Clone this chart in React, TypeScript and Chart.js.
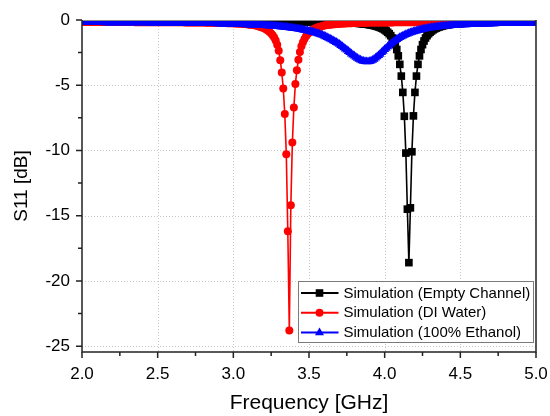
import React, { useEffect, useRef } from "react";
import { Chart, registerables } from "chart.js";

Chart.register(...registerables);

// Frequency sweep (GHz)
const freqGHz = [
  2.00, 2.01, 2.02, 2.03, 2.04, 2.05, 2.06, 2.07, 2.08, 2.09,
  2.10, 2.11, 2.12, 2.13, 2.14, 2.15, 2.16, 2.17, 2.18, 2.19,
  2.20, 2.21, 2.22, 2.23, 2.24, 2.25, 2.26, 2.27, 2.28, 2.29,
  2.30, 2.31, 2.32, 2.33, 2.34, 2.35, 2.36, 2.37, 2.38, 2.39,
  2.40, 2.41, 2.42, 2.43, 2.44, 2.45, 2.46, 2.47, 2.48, 2.49,
  2.50, 2.51, 2.52, 2.53, 2.54, 2.55, 2.56, 2.57, 2.58, 2.59,
  2.60, 2.61, 2.62, 2.63, 2.64, 2.65, 2.66, 2.67, 2.68, 2.69,
  2.70, 2.71, 2.72, 2.73, 2.74, 2.75, 2.76, 2.77, 2.78, 2.79,
  2.80, 2.81, 2.82, 2.83, 2.84, 2.85, 2.86, 2.87, 2.88, 2.89,
  2.90, 2.91, 2.92, 2.93, 2.94, 2.95, 2.96, 2.97, 2.98, 2.99,
  3.00, 3.01, 3.02, 3.03, 3.04, 3.05, 3.06, 3.07, 3.08, 3.09,
  3.10, 3.11, 3.12, 3.13, 3.14, 3.15, 3.16, 3.17, 3.18, 3.19,
  3.20, 3.21, 3.22, 3.23, 3.24, 3.25, 3.26, 3.27, 3.28, 3.29,
  3.30, 3.31, 3.32, 3.33, 3.34, 3.35, 3.36, 3.37, 3.38, 3.39,
  3.40, 3.41, 3.42, 3.43, 3.44, 3.45, 3.46, 3.47, 3.48, 3.49,
  3.50, 3.51, 3.52, 3.53, 3.54, 3.55, 3.56, 3.57, 3.58, 3.59,
  3.60, 3.61, 3.62, 3.63, 3.64, 3.65, 3.66, 3.67, 3.68, 3.69,
  3.70, 3.71, 3.72, 3.73, 3.74, 3.75, 3.76, 3.77, 3.78, 3.79,
  3.80, 3.81, 3.82, 3.83, 3.84, 3.85, 3.86, 3.87, 3.88, 3.89,
  3.90, 3.91, 3.92, 3.93, 3.94, 3.95, 3.96, 3.97, 3.98, 3.99,
  4.00, 4.01, 4.02, 4.03, 4.04, 4.05, 4.06, 4.07, 4.08, 4.09,
  4.10, 4.11, 4.12, 4.13, 4.14, 4.15, 4.16, 4.17, 4.18, 4.19,
  4.20, 4.21, 4.22, 4.23, 4.24, 4.25, 4.26, 4.27, 4.28, 4.29,
  4.30, 4.31, 4.32, 4.33, 4.34, 4.35, 4.36, 4.37, 4.38, 4.39,
  4.40, 4.41, 4.42, 4.43, 4.44, 4.45, 4.46, 4.47, 4.48, 4.49,
  4.50, 4.51, 4.52, 4.53, 4.54, 4.55, 4.56, 4.57, 4.58, 4.59,
  4.60, 4.61, 4.62, 4.63, 4.64, 4.65, 4.66, 4.67, 4.68, 4.69,
  4.70, 4.71, 4.72, 4.73, 4.74, 4.75, 4.76, 4.77, 4.78, 4.79,
  4.80, 4.81, 4.82, 4.83, 4.84, 4.85, 4.86, 4.87, 4.88, 4.89,
  4.90, 4.91, 4.92, 4.93, 4.94, 4.95, 4.96, 4.97, 4.98, 4.99,
  5.00,
];

// S11 (dB) – Simulation (Empty Channel)
const s11EmptyChannel = [
  -0.10, -0.10, -0.10, -0.10, -0.10, -0.10, -0.10, -0.10, -0.10, -0.10,
  -0.10, -0.10, -0.10, -0.10, -0.10, -0.10, -0.10, -0.10, -0.10, -0.10,
  -0.10, -0.10, -0.10, -0.10, -0.10, -0.10, -0.10, -0.10, -0.10, -0.10,
  -0.10, -0.10, -0.10, -0.10, -0.10, -0.10, -0.10, -0.10, -0.10, -0.10,
  -0.10, -0.10, -0.10, -0.10, -0.10, -0.11, -0.11, -0.11, -0.11, -0.11,
  -0.11, -0.11, -0.11, -0.11, -0.11, -0.11, -0.11, -0.11, -0.11, -0.11,
  -0.11, -0.11, -0.11, -0.11, -0.11, -0.11, -0.11, -0.11, -0.11, -0.11,
  -0.11, -0.11, -0.11, -0.11, -0.11, -0.11, -0.11, -0.11, -0.11, -0.11,
  -0.11, -0.11, -0.11, -0.11, -0.11, -0.11, -0.11, -0.11, -0.11, -0.11,
  -0.11, -0.11, -0.11, -0.11, -0.11, -0.11, -0.11, -0.11, -0.11, -0.11,
  -0.11, -0.11, -0.11, -0.11, -0.11, -0.11, -0.11, -0.11, -0.11, -0.11,
  -0.12, -0.12, -0.12, -0.12, -0.12, -0.12, -0.12, -0.12, -0.12, -0.12,
  -0.12, -0.12, -0.12, -0.12, -0.12, -0.12, -0.12, -0.12, -0.12, -0.12,
  -0.13, -0.13, -0.13, -0.13, -0.13, -0.13, -0.13, -0.13, -0.13, -0.13,
  -0.13, -0.13, -0.13, -0.14, -0.14, -0.14, -0.14, -0.14, -0.14, -0.14,
  -0.14, -0.14, -0.15, -0.15, -0.15, -0.15, -0.15, -0.15, -0.16, -0.16,
  -0.16, -0.16, -0.16, -0.16, -0.17, -0.17, -0.17, -0.17, -0.18, -0.18,
  -0.18, -0.19, -0.19, -0.20, -0.20, -0.21, -0.21, -0.22, -0.22, -0.23,
  -0.24, -0.24, -0.25, -0.26, -0.27, -0.28, -0.30, -0.31, -0.32, -0.34,
  -0.36, -0.38, -0.40, -0.43, -0.46, -0.49, -0.53, -0.57, -0.62, -0.68,
  -0.75, -0.84, -0.94, -1.05, -1.20, -1.38, -1.61, -1.89, -2.26, -2.75,
  -3.40, -4.30, -5.55, -7.38, -10.2, -14.5, -18.6, -14.4, -10.1, -7.35,
  -5.55, -4.30, -3.40, -2.75, -2.26, -1.89, -1.61, -1.38, -1.20, -1.05,
  -0.94, -0.84, -0.75, -0.68, -0.62, -0.57, -0.53, -0.49, -0.46, -0.43,
  -0.40, -0.38, -0.36, -0.34, -0.32, -0.31, -0.30, -0.28, -0.27, -0.26,
  -0.25, -0.25, -0.24, -0.23, -0.22, -0.22, -0.21, -0.21, -0.20, -0.20,
  -0.19, -0.19, -0.18, -0.18, -0.18, -0.18, -0.17, -0.17, -0.17, -0.16,
  -0.16, -0.16, -0.16, -0.15, -0.15, -0.15, -0.15, -0.15, -0.14, -0.14,
  -0.14, -0.14, -0.14, -0.14, -0.14, -0.14, -0.14, -0.14, -0.14, -0.13,
  -0.13, -0.13, -0.13, -0.13, -0.13, -0.13, -0.13, -0.13, -0.13, -0.13,
  -0.13,
];

// S11 (dB) – Simulation (DI Water)
const s11DIWater = [
  -0.16, -0.16, -0.16, -0.16, -0.16, -0.16, -0.16, -0.16, -0.16, -0.16,
  -0.16, -0.16, -0.16, -0.16, -0.16, -0.16, -0.16, -0.16, -0.16, -0.16,
  -0.16, -0.16, -0.16, -0.16, -0.16, -0.16, -0.16, -0.16, -0.16, -0.16,
  -0.16, -0.16, -0.16, -0.16, -0.16, -0.17, -0.17, -0.17, -0.17, -0.17,
  -0.17, -0.17, -0.17, -0.17, -0.17, -0.17, -0.17, -0.17, -0.17, -0.17,
  -0.17, -0.17, -0.17, -0.17, -0.17, -0.18, -0.18, -0.18, -0.18, -0.18,
  -0.18, -0.18, -0.18, -0.18, -0.18, -0.18, -0.18, -0.18, -0.19, -0.19,
  -0.19, -0.19, -0.19, -0.19, -0.19, -0.19, -0.20, -0.20, -0.20, -0.20,
  -0.20, -0.20, -0.21, -0.21, -0.21, -0.21, -0.21, -0.22, -0.22, -0.22,
  -0.22, -0.22, -0.23, -0.23, -0.23, -0.23, -0.24, -0.24, -0.24, -0.24,
  -0.25, -0.26, -0.26, -0.27, -0.28, -0.28, -0.29, -0.30, -0.31, -0.32,
  -0.34, -0.36, -0.37, -0.39, -0.41, -0.43, -0.46, -0.49, -0.53, -0.57,
  -0.62, -0.68, -0.74, -0.82, -0.92, -1.03, -1.17, -1.35, -1.58, -1.90,
  -2.35, -3.08, -4.02, -5.25, -7.2, -10.3, -16.2, -23.8, -14.2, -9.4,
  -6.7, -4.9, -3.85, -3.04, -2.45, -2.02, -1.70, -1.45, -1.25, -1.09,
  -0.97, -0.87, -0.78, -0.71, -0.65, -0.60, -0.56, -0.52, -0.49, -0.46,
  -0.43, -0.41, -0.39, -0.37, -0.36, -0.34, -0.33, -0.32, -0.31, -0.30,
  -0.29, -0.28, -0.27, -0.27, -0.26, -0.25, -0.25, -0.24, -0.24, -0.23,
  -0.23, -0.23, -0.23, -0.22, -0.22, -0.22, -0.22, -0.21, -0.21, -0.21,
  -0.20, -0.20, -0.20, -0.20, -0.20, -0.20, -0.19, -0.19, -0.19, -0.19,
  -0.19, -0.19, -0.19, -0.19, -0.19, -0.19, -0.18, -0.18, -0.18, -0.18,
  -0.18, -0.18, -0.18, -0.18, -0.18, -0.18, -0.17, -0.17, -0.17, -0.17,
  -0.17, -0.17, -0.17, -0.17, -0.17, -0.17, -0.17, -0.17, -0.17, -0.17,
  -0.17, -0.17, -0.17, -0.17, -0.17, -0.17, -0.17, -0.17, -0.17, -0.17,
  -0.17, -0.17, -0.17, -0.17, -0.17, -0.17, -0.16, -0.16, -0.16, -0.16,
  -0.16, -0.16, -0.16, -0.16, -0.16, -0.16, -0.16, -0.16, -0.16, -0.16,
  -0.16, -0.16, -0.16, -0.16, -0.16, -0.16, -0.16, -0.16, -0.16, -0.16,
  -0.16, -0.16, -0.16, -0.16, -0.16, -0.16, -0.16, -0.16, -0.16, -0.16,
  -0.16, -0.16, -0.16, -0.16, -0.16, -0.16, -0.16, -0.16, -0.16, -0.16,
  -0.16, -0.16, -0.16, -0.16, -0.16, -0.16, -0.16, -0.16, -0.16, -0.16,
  -0.16,
];

// S11 (dB) – Simulation (100% Ethanol)
const s11Ethanol = [
  -0.19, -0.19, -0.19, -0.19, -0.19, -0.19, -0.19, -0.19, -0.19, -0.19,
  -0.19, -0.19, -0.19, -0.19, -0.19, -0.20, -0.20, -0.20, -0.20, -0.20,
  -0.20, -0.20, -0.20, -0.20, -0.20, -0.20, -0.20, -0.20, -0.20, -0.20,
  -0.20, -0.20, -0.20, -0.20, -0.20, -0.21, -0.21, -0.21, -0.21, -0.21,
  -0.21, -0.21, -0.21, -0.21, -0.21, -0.22, -0.22, -0.22, -0.22, -0.22,
  -0.22, -0.22, -0.22, -0.22, -0.22, -0.23, -0.23, -0.23, -0.23, -0.23,
  -0.23, -0.23, -0.23, -0.23, -0.23, -0.24, -0.24, -0.24, -0.24, -0.24,
  -0.24, -0.24, -0.24, -0.25, -0.25, -0.25, -0.25, -0.25, -0.25, -0.26,
  -0.26, -0.26, -0.26, -0.26, -0.27, -0.27, -0.27, -0.27, -0.27, -0.28,
  -0.28, -0.28, -0.28, -0.29, -0.29, -0.29, -0.30, -0.30, -0.30, -0.31,
  -0.31, -0.31, -0.32, -0.32, -0.33, -0.33, -0.34, -0.34, -0.35, -0.35,
  -0.36, -0.36, -0.37, -0.37, -0.38, -0.38, -0.39, -0.40, -0.40, -0.41,
  -0.42, -0.42, -0.43, -0.44, -0.44, -0.45, -0.46, -0.47, -0.48, -0.49,
  -0.50, -0.51, -0.52, -0.53, -0.55, -0.56, -0.57, -0.59, -0.60, -0.62,
  -0.64, -0.65, -0.67, -0.69, -0.71, -0.73, -0.75, -0.78, -0.80, -0.82,
  -0.85, -0.88, -0.91, -0.94, -0.97, -1.01, -1.05, -1.09, -1.13, -1.17,
  -1.22, -1.27, -1.33, -1.39, -1.45, -1.51, -1.58, -1.64, -1.71, -1.78,
  -1.86, -1.94, -2.03, -2.12, -2.21, -2.30, -2.40, -2.49, -2.59, -2.68,
  -2.76, -2.85, -2.93, -3.00, -3.06, -3.12, -3.16, -3.18, -3.20, -3.20,
  -3.18, -3.14, -3.08, -3.00, -2.91, -2.81, -2.71, -2.61, -2.49, -2.38,
  -2.25, -2.16, -2.05, -1.93, -1.83, -1.74, -1.65, -1.56, -1.48, -1.41,
  -1.34, -1.28, -1.22, -1.16, -1.11, -1.06, -1.01, -0.97, -0.93, -0.89,
  -0.86, -0.83, -0.80, -0.77, -0.74, -0.71, -0.69, -0.66, -0.64, -0.62,
  -0.60, -0.58, -0.57, -0.55, -0.54, -0.52, -0.51, -0.50, -0.48, -0.47,
  -0.46, -0.45, -0.44, -0.43, -0.42, -0.41, -0.40, -0.39, -0.38, -0.38,
  -0.37, -0.36, -0.36, -0.35, -0.35, -0.34, -0.34, -0.33, -0.33, -0.32,
  -0.32, -0.32, -0.31, -0.31, -0.30, -0.30, -0.30, -0.29, -0.29, -0.29,
  -0.28, -0.28, -0.28, -0.28, -0.27, -0.27, -0.27, -0.27, -0.26, -0.26,
  -0.26, -0.26, -0.26, -0.25, -0.25, -0.25, -0.25, -0.25, -0.24, -0.24,
  -0.24, -0.24, -0.24, -0.23, -0.23, -0.23, -0.23, -0.23, -0.22, -0.22,
  -0.22,
];

const seriesLabels = [
  "Simulation (Empty Channel)",
  "Simulation (DI Water)",
  "Simulation (100% Ethanol)",
];
const seriesColors = ["#000000", "#ff0000", "#0000ff"];
const seriesMarkers = ["rect", "circle", "triangle"];

const xMajorTicks = [2.0, 2.5, 3.0, 3.5, 4.0, 4.5, 5.0];
const xMinorTicks = [2.25, 2.75, 3.25, 3.75, 4.25, 4.75];
const yMajorTicks = [-25, -20, -15, -10, -5, 0];
const yMinorTicks = [-22.5, -17.5, -12.5, -7.5, -2.5];

const xTitle = "Frequency [GHz]";
const yTitle = "S11 [dB]";

const FONT = "'Liberation Sans', Arial, Helvetica, sans-serif";

function drawMarker(ctx: CanvasRenderingContext2D, style: string, x: number, y: number, color: string) {
  ctx.fillStyle = color;
  ctx.beginPath();
  if (style === "rect") {
    ctx.rect(x - 3.8, y - 3.8, 7.6, 7.6);
  } else if (style === "circle") {
    ctx.arc(x, y, 4, 0, Math.PI * 2);
  } else {
    const r = 5.2;
    ctx.moveTo(x, y - r);
    ctx.lineTo(x + r * 0.866, y + r * 0.5);
    ctx.lineTo(x - r * 0.866, y + r * 0.5);
    ctx.closePath();
  }
  ctx.fill();
}

const framePlugin = {
  id: "originFrame",
  beforeDatasetsDraw(chart: any) {
    const { ctx, chartArea: a, scales } = chart;
    const xs = scales.x;
    const ys = scales.y;
    ctx.save();
    ctx.strokeStyle = "#c8c8c8";
    ctx.lineWidth = 1;
    ctx.setLineDash([1, 2]);
    xMajorTicks.forEach((v) => {
      if (v <= 2.0 || v >= 5.0) return;
      const px = Math.round(xs.getPixelForValue(v)) + 0.5;
      ctx.beginPath();
      ctx.moveTo(px, a.top);
      ctx.lineTo(px, a.bottom);
      ctx.stroke();
    });
    yMajorTicks.forEach((v) => {
      if (v >= 0) return;
      const py = Math.round(ys.getPixelForValue(v)) + 0.5;
      ctx.beginPath();
      ctx.moveTo(a.left, py);
      ctx.lineTo(a.right, py);
      ctx.stroke();
    });
    ctx.restore();
  },
  afterDatasetsDraw(chart: any) {
    const { ctx, chartArea: a, scales } = chart;
    const xs = scales.x;
    const ys = scales.y;
    ctx.save();
    ctx.setLineDash([]);
    ctx.strokeStyle = "#8a8a8a";
    ctx.lineWidth = 1;
    ctx.beginPath();
    ctx.moveTo(a.left, a.top + 0.5);
    ctx.lineTo(a.right, a.top + 0.5);
    ctx.stroke();
    ctx.strokeStyle = "#222222";
    ctx.lineWidth = 1.5;
    ctx.beginPath();
    ctx.moveTo(a.left, a.top);
    ctx.lineTo(a.left, a.bottom);
    ctx.lineTo(a.right, a.bottom);
    ctx.lineTo(a.right, a.top);
    ctx.stroke();
    ctx.lineWidth = 1.5;
    ctx.beginPath();
    xMajorTicks.forEach((v) => {
      const px = xs.getPixelForValue(v);
      ctx.moveTo(px, a.bottom);
      ctx.lineTo(px, a.bottom + 6);
    });
    xMinorTicks.forEach((v) => {
      const px = xs.getPixelForValue(v);
      ctx.moveTo(px, a.bottom);
      ctx.lineTo(px, a.bottom + 4);
    });
    yMajorTicks.forEach((v) => {
      const py = ys.getPixelForValue(v);
      ctx.moveTo(a.left, py);
      ctx.lineTo(a.left - 6, py);
    });
    yMinorTicks.forEach((v) => {
      const py = ys.getPixelForValue(v);
      ctx.moveTo(a.left, py);
      ctx.lineTo(a.left - 4, py);
    });
    ctx.stroke();

    // legend box inside plot area (bottom-right)
    const bx = a.right - 237.5;
    const by = a.bottom - 70.5;
    const bw = 235;
    const bh = 61;
    ctx.fillStyle = "#ffffff";
    ctx.fillRect(bx, by, bw, bh);
    ctx.strokeStyle = "#7a7a7a";
    ctx.lineWidth = 1;
    ctx.strokeRect(bx, by, bw, bh);
    ctx.font = `15px ${FONT}`;
    ctx.textBaseline = "middle";
    ctx.textAlign = "left";
    chart.data.datasets.forEach((ds: any, i: number) => {
      const y = by + 11.5 + i * 19.8;
      const color = seriesColors[i];
      ctx.strokeStyle = color;
      ctx.lineWidth = 2;
      ctx.beginPath();
      ctx.moveTo(bx + 2.5, y);
      ctx.lineTo(bx + 40, y);
      ctx.stroke();
      drawMarker(ctx, seriesMarkers[i], bx + 21, y, color);
      ctx.fillStyle = "#000000";
      ctx.fillText(ds.label, bx + 45, y + 0.5);
    });
    ctx.restore();
  },
};

export default function App() {
  const canvasRef = useRef<HTMLCanvasElement | null>(null);

  useEffect(() => {
    const canvas = canvasRef.current;
    if (!canvas) return;
    const seriesValues = [s11EmptyChannel, s11DIWater, s11Ethanol];
    const radii = [5.4, 4, 5.2];
    const chart = new Chart(canvas, {
      type: "line",
      data: {
        datasets: seriesValues.map((vals, i) => ({
          label: seriesLabels[i],
          data: freqGHz.map((f, j) => ({ x: f, y: vals[j] })),
          borderColor: seriesColors[i],
          backgroundColor: seriesColors[i],
          borderWidth: 1.6,
          pointStyle: seriesMarkers[i] as any,
          pointRadius: radii[i],
          pointBackgroundColor: seriesColors[i],
          pointBorderColor: seriesColors[i],
          pointBorderWidth: 0,
          tension: 0,
          order: 3 - i,
        })),
      },
      options: {
        animation: false,
        responsive: false,
        events: [],
        layout: { padding: { top: 20, right: 14, bottom: 0, left: 0 } },
        plugins: {
          legend: { display: false },
          tooltip: { enabled: false },
        },
        scales: {
          x: {
            type: "linear",
            min: 2,
            max: 5,
            grid: { display: false, drawTicks: false },
            border: { display: false },
            afterBuildTicks: (scale: any) => {
              scale.ticks = xMajorTicks.map((v) => ({ value: v }));
            },
            afterFit: (scale: any) => {
              scale.height = 64;
              scale.paddingLeft = 0;
              scale.paddingRight = 0;
            },
            ticks: {
              color: "#000",
              padding: 12,
              maxRotation: 0,
              autoSkip: false,
              font: { family: FONT, size: 17 },
              callback: (v: any) => Number(v).toFixed(1),
            },
            title: {
              display: true,
              text: xTitle,
              color: "#000",
              font: { family: FONT, size: 21 },
              padding: { top: 0, bottom: 0 },
            },
          },
          y: {
            type: "linear",
            min: -25.45,
            max: 0,
            grid: { display: false, drawTicks: false },
            border: { display: false },
            afterBuildTicks: (scale: any) => {
              scale.ticks = yMajorTicks.map((v) => ({ value: v }));
            },
            afterFit: (scale: any) => {
              scale.width = 82;
              scale.paddingTop = 0;
              scale.paddingBottom = 0;
            },
            ticks: {
              color: "#000",
              padding: 12,
              autoSkip: false,
              font: { family: FONT, size: 17 },
              callback: (v: any) => String(v),
            },
            title: {
              display: true,
              text: yTitle,
              color: "#000",
              font: { family: FONT, size: 19 },
              padding: { top: 10, bottom: 0 },
            },
          },
        },
      },
      plugins: [framePlugin],
    });
    return () => chart.destroy();
  }, []);

  return (
    <div style={{ position: "fixed", left: 0, top: 0, width: 550, height: 416, background: "#ffffff" }}>
      <canvas ref={canvasRef} width={550} height={416} style={{ width: 550, height: 416, display: "block" }} />
    </div>
  );
}
